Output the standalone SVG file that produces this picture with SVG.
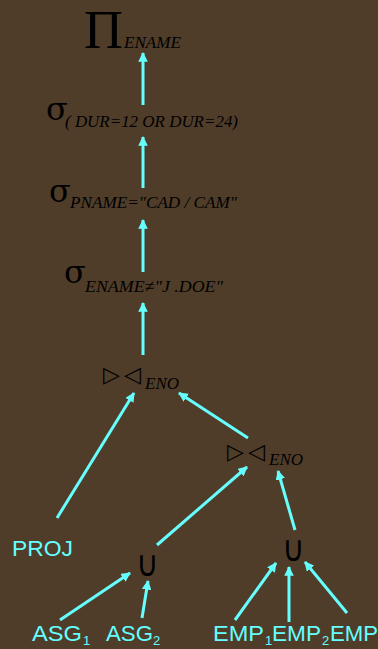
<svg xmlns="http://www.w3.org/2000/svg" width="378" height="649" viewBox="0 0 378 649">
<defs>
<marker id="ah" viewBox="0 0 10 10" refX="9" refY="5" markerWidth="3.2" markerHeight="3.2" orient="auto" markerUnits="strokeWidth">
<path d="M0,0 L10,5 L0,10 z" fill="#66FFFF"/>
</marker>
<style>
.op{font-family:"Liberation Serif","DejaVu Serif",serif;fill:#000}
.sig{font-family:"DejaVu Serif",serif;font-size:32px;fill:#000}
.sub{font-family:"Liberation Serif","DejaVu Serif",serif;font-style:italic;font-size:17px;fill:#000}
.sym{font-family:"DejaVu Sans",sans-serif;fill:#000}
.lbl{font-family:"Liberation Sans",Arial,sans-serif;font-size:22px;fill:#66FFFF}
.lsub{font-family:"Liberation Sans",Arial,sans-serif;font-size:13px;fill:#66FFFF}
.c{stroke:#66FFFF;stroke-width:3;fill:none;marker-end:url(#ah)}
</style>
</defs>
<rect width="378" height="649" fill="#4F3D2A"/>
<g id="connectors">
<line class="c" x1="143" y1="105" x2="143" y2="53"/>
<line class="c" x1="143" y1="188" x2="143" y2="137"/>
<line class="c" x1="143" y1="272" x2="143" y2="220"/>
<line class="c" x1="143" y1="355" x2="143" y2="303"/>
<line class="c" x1="57" y1="518" x2="134" y2="393"/>
<line class="c" x1="248" y1="438" x2="179" y2="393"/>
<line class="c" x1="157" y1="545" x2="247" y2="467"/>
<line class="c" x1="295" y1="530" x2="278" y2="471"/>
<line class="c" x1="60" y1="620" x2="130" y2="573"/>
<line class="c" x1="142" y1="618" x2="148" y2="581"/>
<line class="c" x1="235" y1="620" x2="276" y2="563"/>
<line class="c" x1="289" y1="622" x2="289" y2="567"/>
<line class="c" x1="347" y1="613" x2="305" y2="562"/>
</g>
<g id="project">
<text class="op" x="84" y="48" font-size="54">Π</text>
<text class="sub" x="124" y="48" textLength="57" lengthAdjust="spacingAndGlyphs">ENAME</text>
</g>
<g id="select-dur">
<text class="sig" x="46" y="120">σ</text>
<text class="sub" x="65" y="127" textLength="173" lengthAdjust="spacingAndGlyphs">( DUR=12 OR DUR=24)</text>
</g>
<g id="select-pname">
<text class="sig" x="49" y="202">σ</text>
<text class="sub" x="70" y="208" textLength="167" lengthAdjust="spacingAndGlyphs">PNAME="CAD / CAM"</text>
</g>
<g id="select-ename">
<text class="sig" x="64" y="283">σ</text>
<text class="sub" x="85" y="292" textLength="138" lengthAdjust="spacingAndGlyphs">ENAME≠"J .DOE"</text>
</g>
<g id="join1">
<text class="sym" x="103" y="382" font-size="22" letter-spacing="4">▷◁</text>
<text class="sub" x="145" y="389">ENO</text>
</g>
<g id="join2">
<text class="sym" x="227" y="459" font-size="22" letter-spacing="4">▷◁</text>
<text class="sub" x="269" y="465">ENO</text>
</g>
<g id="proj">
<text class="lbl" x="12" y="556" textLength="61" lengthAdjust="spacingAndGlyphs">PROJ</text>
</g>
<g id="union1">
<text class="sym" transform="translate(136,576) scale(0.85,1)" font-size="36">∪</text>
</g>
<g id="union2">
<text class="sym" transform="translate(282,561) scale(0.85,1)" font-size="36">∪</text>
</g>
<g id="asg1">
<text class="lbl" x="32" y="641" textLength="50" lengthAdjust="spacingAndGlyphs">ASG</text><text class="lsub" x="83" y="645">1</text>
</g>
<g id="asg2">
<text class="lbl" x="106" y="641" textLength="47" lengthAdjust="spacingAndGlyphs">ASG</text><text class="lsub" x="153" y="645">2</text>
</g>
<g id="emp1">
<text class="lbl" x="213" y="641" textLength="51" lengthAdjust="spacingAndGlyphs">EMP</text><text class="lsub" x="265" y="645">1</text>
</g>
<g id="emp2">
<text class="lbl" x="272" y="641" textLength="49" lengthAdjust="spacingAndGlyphs">EMP</text><text class="lsub" x="322" y="645">2</text>
</g>
<g id="emp3">
<text class="lbl" x="330" y="641" textLength="48" lengthAdjust="spacingAndGlyphs">EMP</text>
</g>
</svg>
